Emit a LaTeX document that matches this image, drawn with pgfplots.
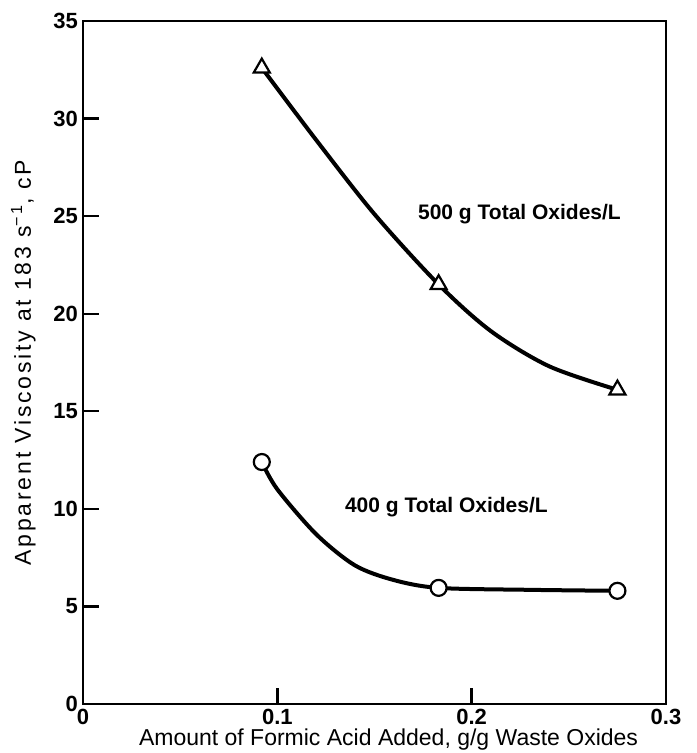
\documentclass[border=0pt]{standalone}
\usepackage{fontspec}
\setmainfont{Liberation Sans}
\usepackage{pgfplots}
\pgfplotsset{compat=1.18}
\begin{document}
\begin{tikzpicture}
\begin{axis}[
    name=ax,
    scale only axis,
    width=291.5pt, height=341.5pt,
    xmin=0, xmax=0.3,
    ymin=0, ymax=35,
    axis line style={line width=1.4pt},
    xtick={0.1,0.2}, extra x ticks={0,0.3},
    extra x tick style={major tick length=0pt},
    ytick={5,10,...,30}, extra y ticks={0,35},
    extra y tick style={major tick length=0pt},
    tick align=inside,
    xtick pos=bottom, ytick pos=left,
    major tick length=8pt,
    tick style={line width=1.2pt, black},
    /pgf/number format/assume math mode=true,
    /pgf/number format/fixed,
    /pgf/number format/precision=1,
    ticklabel style={font=\fontsize{11}{13}\selectfont\bfseries},
    xticklabel style={yshift=1pt},
    yticklabel style={xshift=1pt},
    xlabel={Amount of Formic Acid Added, g/g Waste Oxides},
    ylabel={Apparent Viscosity at 183 s\textsuperscript{−1}, cP},
    xlabel style={font=\fontsize{11.5}{13}\selectfont, yshift=5pt, xshift=7pt},
    ylabel style={font=\fontsize{11.5}{13}\selectfont\addfontfeature{LetterSpace=12}, yshift=2pt},
    clip=false,
]
% curves drawn through the figure
\addplot[smooth, line width=2pt, black] coordinates {
    (0.092,32.6)(0.12,28.9)(0.15,25.1)(0.183,21.5)(0.21,19.1)(0.24,17.3)(0.275,16.1)};
\addplot[smooth, line width=2pt, black] coordinates {
    (0.092,12.4)(0.10,11.0)(0.12,8.7)(0.14,7.1)(0.16,6.35)(0.183,5.95)(0.23,5.85)(0.275,5.8)};
% data points
\addplot[only marks, mark=triangle*, mark size=4.6pt,
    mark options={fill=white, draw=black, line width=1.1pt}] coordinates {
    (0.092,32.6)(0.183,21.5)(0.275,16.1)};
\addplot[only marks, mark=*, mark size=4pt,
    mark options={fill=white, draw=black, line width=1.1pt}] coordinates {
    (0.092,12.4)(0.183,5.95)(0.275,5.8)};
\node[font=\fontsize{10.5}{12}\selectfont\bfseries] at (axis cs:0.2246,25.1) {500 g Total Oxides/L};
\node[font=\fontsize{10.5}{12}\selectfont\bfseries] at (axis cs:0.187,10.1) {400 g Total Oxides/L};
\end{axis}
\pgfresetboundingbox
\path (ax.south west) ++(-41.5pt,-24.5pt) rectangle ++(348pt,376.5pt);
\end{tikzpicture}
\end{document}
